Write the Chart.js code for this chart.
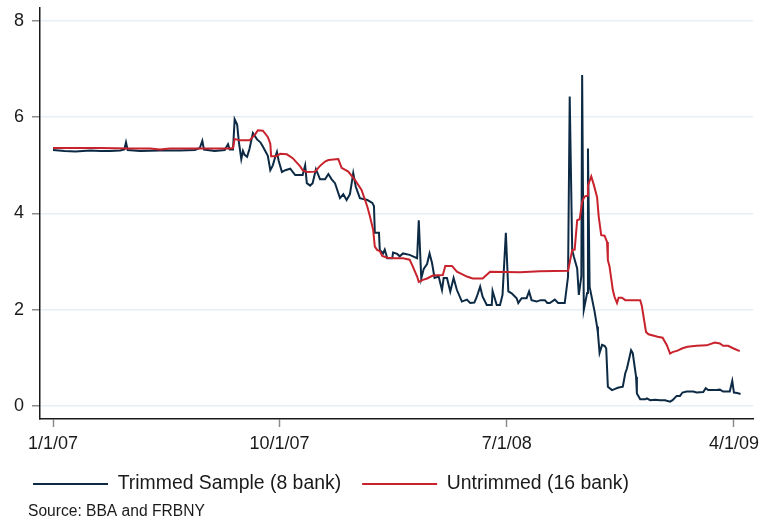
<!DOCTYPE html>
<html>
<head>
<meta charset="utf-8">
<script src="https://cdn.jsdelivr.net/npm/chart.js@4"></script>
<style>
  html, body { margin: 0; padding: 0; background: #ffffff; }
  #wrap { width: 764px; height: 525px; }
</style>
</head>
<body>
<div id="wrap"><canvas id="c" width="764" height="525"></canvas></div>
<script>
// ---- data (days counted from 1 Jan 2007) ----
const xTickDays = [0, 273, 547, 821];
const xTickLabels = ['1/1/07', '10/1/07', '7/1/08', '4/1/09'];
const yTicks = [0, 2, 4, 6, 8];
const seriesNames = ['Trimmed Sample (8 bank)', 'Untrimmed (16 bank)'];
const sourceNote = 'Source: BBA and FRBNY';

const trimmedDays = [0,14,27,45,57,69,81,86,88,90,
  105,129,153,171,177,180,182,195,207,211,
  213,217,219,222,224,227,229,231,234,237,
  241,246,250,253,259,262,265,268,270,272,
  276,280,286,292,298,301,304,306,310,313,
  317,322,328,332,336,340,346,350,354,358,
  362,365,370,379,385,387,388,391,393,394,
  398,400,403,409,410,415,418,422,430,434,
  439,441,444,447,451,454,457,460,465,469,
  471,475,479,483,487,493,499,503,508,511,
  515,518,523,529,530,535,539,542,546,549,
  553,559,561,565,571,574,577,583,588,593,
  596,599,605,609,617,621,623,626,628,632,
  634,637,638,640,644,645,647,653,656,657,
  659,662,665,667,669,674,677,681,687,690,
  692,697,699,703,704,708,714,716,720,726,
  732,738,744,747,752,756,759,764,772,776,
  784,787,790,798,804,808,816,819,821,825,
  829];
const trimmedRate = [5.32,5.30,5.29,5.31,5.30,5.30,5.31,5.33,5.48,5.32,
  5.30,5.31,5.31,5.32,5.36,5.51,5.33,5.30,5.32,5.44,
  5.33,5.33,5.96,5.85,5.50,5.13,5.30,5.22,5.18,5.35,
  5.67,5.54,5.48,5.39,5.20,4.90,5.00,5.18,5.28,5.10,
  4.86,4.90,4.93,4.80,4.80,4.80,5.00,4.63,4.58,4.63,
  4.92,4.71,4.71,4.82,4.71,4.63,4.32,4.40,4.28,4.40,
  4.84,4.56,4.32,4.28,4.22,4.15,3.60,3.60,3.60,3.24,
  3.17,3.25,3.07,3.07,3.19,3.16,3.11,3.17,3.14,3.11,
  3.07,3.86,2.65,2.85,2.95,3.17,2.97,2.66,2.69,2.41,
  2.66,2.66,2.38,2.66,2.41,2.17,2.21,2.14,2.15,2.27,
  2.48,2.27,2.10,2.10,2.39,2.10,2.10,2.31,3.60,2.38,
  2.34,2.24,2.14,2.24,2.24,2.38,2.20,2.17,2.20,2.20,
  2.14,2.14,2.21,2.14,2.14,2.69,6.43,3.24,3.10,2.86,
  2.31,2.69,6.88,2.00,2.35,5.35,2.48,1.96,1.65,1.52,
  1.10,1.27,1.25,1.20,0.40,0.33,0.35,0.38,0.40,0.68,
  0.78,1.16,1.10,0.61,0.26,0.14,0.14,0.16,0.12,0.13,
  0.12,0.12,0.09,0.12,0.21,0.21,0.28,0.30,0.30,0.28,
  0.29,0.37,0.33,0.33,0.34,0.30,0.30,0.52,0.28,0.27,
  0.25];

const untrimmedDays = [0,57,93,117,129,141,177,213,217,219,
  225,237,244,247,253,259,262,263,269,274,
  282,289,298,301,306,316,322,328,332,344,
  348,356,364,372,379,382,386,388,391,394,
  397,403,412,422,430,434,439,441,446,451,
  458,470,473,481,487,493,499,506,518,527,
  563,587,621,626,629,632,635,638,641,644,
  645,649,652,656,658,661,665,668,669,671,
  675,677,680,682,686,690,696,708,710,712,
  715,718,729,735,740,744,747,753,759,765,
  776,788,798,804,808,814,820,828];
const untrimmedRate = [5.36,5.36,5.35,5.35,5.33,5.35,5.35,5.35,5.36,5.55,
  5.52,5.52,5.65,5.73,5.72,5.59,5.45,5.19,5.19,5.24,
  5.23,5.15,4.98,4.90,4.86,4.87,4.99,5.08,5.11,5.13,
  4.95,4.87,4.70,4.49,4.14,3.95,3.66,3.31,3.24,3.22,
  3.12,3.08,3.07,3.07,3.04,2.89,2.69,2.58,2.62,2.65,
  2.71,2.72,2.91,2.91,2.79,2.74,2.69,2.65,2.65,2.79,
  2.78,2.80,2.81,3.24,3.25,3.86,3.88,4.25,4.35,4.37,
  4.58,4.77,4.60,4.34,3.93,3.55,3.54,3.41,3.03,2.90,
  2.41,2.27,2.14,2.25,2.25,2.20,2.20,2.20,2.08,1.86,
  1.54,1.49,1.44,1.42,1.27,1.09,1.12,1.15,1.20,1.23,
  1.25,1.26,1.32,1.30,1.25,1.25,1.20,1.14];

// ---- fonts ----
const FAM = '"Liberation Sans", Arial, sans-serif';
const tickFs = 18;
const legendFs = 19.4;
const sourceFs = 15.6;

// ---- layout ----
const W = 764, H = 525;
const plotLeft = 40, plotRight = 753, plotTop = 8, plotBottom = 419;
const padLeft = 12;
const legendPad = 21;
const legendRowY = 484;
const legendH = legendFs + legendPad + 10;
const xAxisH = legendRowY - legendPad - legendFs / 2 - plotBottom;
const padBottom = H - plotBottom - xAxisH - legendH;

const navy = '#0d2a45';
const red = '#c8232d';

const toPts = (d, v) => d.map((x, i) => ({ x: x, y: v[i] }));

const sourcePlugin = {
  id: 'sourceNote',
  afterDraw(chart) {
    const ctx = chart.ctx;
    ctx.save();
    ctx.font = sourceFs + 'px ' + FAM;
    ctx.fillStyle = '#1a1a1a';
    ctx.textBaseline = 'middle';
    ctx.textAlign = 'left';
    ctx.fillText(sourceNote, 28, 512);
    ctx.restore();
  }
};

new Chart(document.getElementById('c'), {
  type: 'line',
  data: {
    datasets: [
      { label: seriesNames[0], data: toPts(trimmedDays, trimmedRate), borderColor: navy, backgroundColor: navy,
        borderWidth: 2, pointRadius: 0, tension: 0, order: 1 },
      { label: seriesNames[1], data: toPts(untrimmedDays, untrimmedRate), borderColor: red, backgroundColor: red,
        borderWidth: 2, pointRadius: 0, tension: 0, order: 0 }
    ]
  },
  options: {
    responsive: false,
    devicePixelRatio: 1,
    animation: false,
    events: [],
    layout: { padding: { left: padLeft, right: W - plotRight, top: plotTop, bottom: padBottom } },
    plugins: {
      tooltip: { enabled: false },
      title: { display: false },
      legend: {
        position: 'bottom',
        align: 'start',
        labels: {
          usePointStyle: true,
          pointStyle: 'line',
          pointStyleWidth: 75,
          padding: legendPad,
          color: '#1a1a1a',
          font: { family: FAM, size: legendFs },
          sort: (a, b) => a.datasetIndex - b.datasetIndex
        }
      }
    },
    scales: {
      x: {
        type: 'linear',
        min: -15.7,
        max: 844,
        afterBuildTicks: (s) => { s.ticks = xTickDays.map(v => ({ value: v })); },
        afterFit: (s) => { s.height = xAxisH; s.paddingLeft = 0; s.paddingRight = 0; },
        ticks: {
          autoSkip: false, maxRotation: 0, minRotation: 0, padding: 6,
          color: '#1a1a1a',
          font: { family: FAM, size: tickFs },
          callback: (v, i) => xTickLabels[i]
        },
        grid: { drawOnChartArea: false, drawTicks: true, tickLength: 8, tickColor: '#8c8c8c', tickWidth: 1.5 },
        border: { display: true, color: '#1a1a1a', width: 1.5 }
      },
      y: {
        type: 'linear',
        min: -0.27,
        max: 8.27,
        afterBuildTicks: (s) => { s.ticks = yTicks.map(v => ({ value: v })); },
        afterFit: (s) => { s.width = plotLeft - padLeft; s.paddingTop = 0; s.paddingBottom = 0; },
        ticks: {
          padding: 8,
          color: '#1a1a1a',
          font: { family: FAM, size: tickFs },
          callback: (v) => String(v)
        },
        grid: { drawOnChartArea: true, color: '#e6eff6', lineWidth: 1.5, drawTicks: true, tickLength: 8, tickColor: '#8c8c8c', tickWidth: 1.5 },
        border: { display: true, color: '#1a1a1a', width: 1.5 }
      }
    }
  },
  plugins: [sourcePlugin]
});
</script>
</body>
</html>
